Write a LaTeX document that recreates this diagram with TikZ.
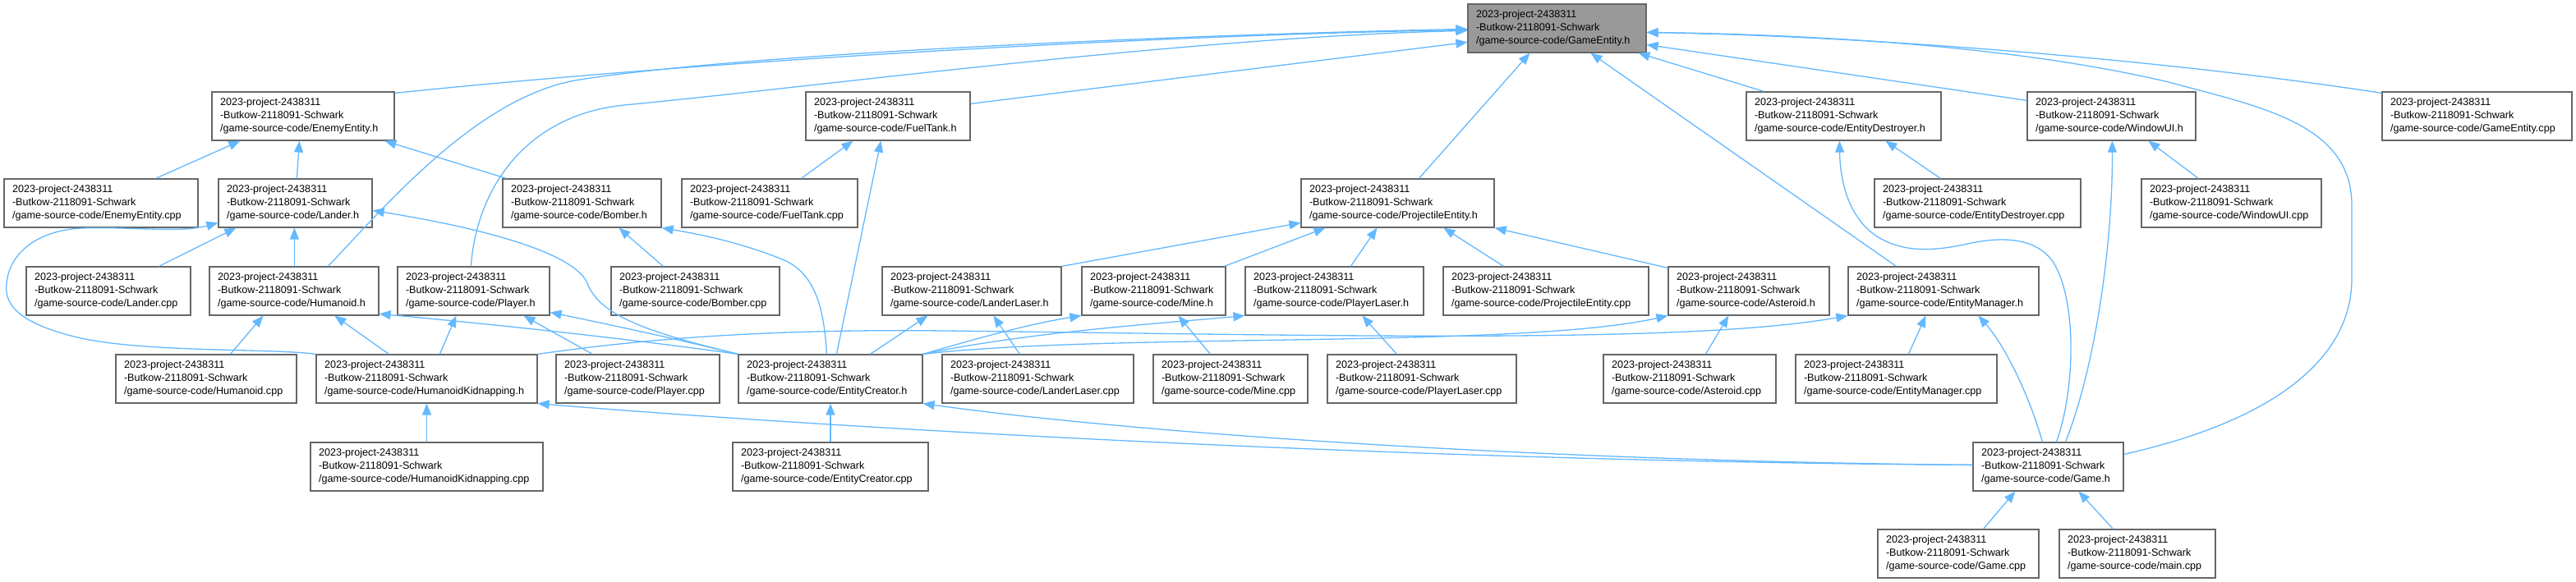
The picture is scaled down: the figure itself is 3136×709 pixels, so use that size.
\documentclass[tikz,border=0pt]{standalone}
\usepackage{fontspec}
\setmainfont{Liberation Sans}
\usetikzlibrary{arrows.meta}
\definecolor{edgeblue}{HTML}{63B8FF}
\definecolor{nodeborder}{HTML}{666666}
\definecolor{mainfill}{HTML}{999999}
\newcommand\flbl[1]{2023-project-2438311\\-Butkow-2118091-Schwark\\/game-source-code/#1}
\newcommand\nodefnt{\fontsize{12.6}{16}\selectfont\hyphenpenalty=10000\exhyphenpenalty=10000}
\begin{document}
\begin{tikzpicture}[x=1pt,y=-1pt,
  filebox/.style={draw=nodeborder, fill=white, line width=1.2pt, minimum height=59pt, inner xsep=10pt, inner ysep=0pt, align=left, font=\nodefnt, anchor=center},
  mainbox/.style={filebox, fill=mainfill},
  dep/.style={draw=edgeblue, line width=1.3pt, -{Triangle[length=14pt,width=11pt]}}]
\useasboundingbox (0,0) rectangle (3136,709);
% row 0
\node[mainbox, text width=197pt] (GE_h) at (1895.5,34.5) {\flbl{GameEntity.h}};
% row 1
\node[filebox, text width=202pt] (EE_h) at (369,141.5) {\flbl{EnemyEntity.h}};
\node[filebox, text width=180pt] (FT_h) at (1081,141.5) {\flbl{FuelTank.h}};
\node[filebox, text width=217pt] (ED_h) at (2244.5,141.5) {\flbl{EntityDestroyer.h}};
\node[filebox, text width=185pt] (WU_h) at (2570.5,141.5) {\flbl{WindowUI.h}};
\node[filebox, text width=211pt] (GE_cpp) at (3015.5,141.5) {\flbl{GameEntity.cpp}};
% row 2
\node[filebox, text width=216pt] (EE_cpp) at (123,247.5) {\flbl{EnemyEntity.cpp}};
\node[filebox, text width=167pt] (La_h) at (359.5,247.5) {\flbl{Lander.h}};
\node[filebox, text width=173pt] (Bo_h) at (708.5,247.5) {\flbl{Bomber.h}};
\node[filebox, text width=194pt] (FT_cpp) at (937,247.5) {\flbl{FuelTank.cpp}};
\node[filebox, text width=215pt] (PE_h) at (1701.5,247.5) {\flbl{ProjectileEntity.h}};
\node[filebox, text width=231pt] (ED_cpp) at (2407.5,247.5) {\flbl{EntityDestroyer.cpp}};
\node[filebox, text width=199pt] (WU_cpp) at (2716.5,247.5) {\flbl{WindowUI.cpp}};
% row 3
\node[filebox, text width=180pt] (La_cpp) at (132,354.5) {\flbl{Lander.cpp}};
\node[filebox, text width=186pt] (Hu_h) at (358,354.5) {\flbl{Humanoid.h}};
\node[filebox, text width=165pt] (Pl_h) at (576.5,354.5) {\flbl{Player.h}};
\node[filebox, text width=185pt] (Bo_cpp) at (846.5,354.5) {\flbl{Bomber.cpp}};
\node[filebox, text width=198pt] (LL_h) at (1183,354.5) {\flbl{LanderLaser.h}};
\node[filebox, text width=155pt] (Mi_h) at (1404.5,354.5) {\flbl{Mine.h}};
\node[filebox, text width=197pt] (PL_h) at (1624.5,354.5) {\flbl{PlayerLaser.h}};
\node[filebox, text width=230pt] (PE_cpp) at (1882,354.5) {\flbl{ProjectileEntity.cpp}};
\node[filebox, text width=176pt] (As_h) at (2129,354.5) {\flbl{Asteroid.h}};
\node[filebox, text width=212pt] (EM_h) at (2366,354.5) {\flbl{EntityManager.h}};
% row 4
\node[filebox, text width=200pt] (Hu_cpp) at (251,461.5) {\flbl{Humanoid.cpp}};
\node[filebox, text width=249pt] (HK_h) at (519.5,461.5) {\flbl{HumanoidKidnapping.h}};
\node[filebox, text width=179pt] (Pl_cpp) at (776.5,461.5) {\flbl{Player.cpp}};
\node[filebox, text width=204pt] (EC_h) at (1011,461.5) {\flbl{EntityCreator.h}};
\node[filebox, text width=213pt] (LL_cpp) at (1263.5,461.5) {\flbl{LanderLaser.cpp}};
\node[filebox, text width=168pt] (Mi_cpp) at (1498,461.5) {\flbl{Mine.cpp}};
\node[filebox, text width=210pt] (PL_cpp) at (1731,461.5) {\flbl{PlayerLaser.cpp}};
\node[filebox, text width=190pt] (As_cpp) at (2057,461.5) {\flbl{Asteroid.cpp}};
\node[filebox, text width=225pt] (EM_cpp) at (2308.5,461.5) {\flbl{EntityManager.cpp}};
% row 5
\node[filebox, text width=263pt] (HK_cpp) at (519.5,568.5) {\flbl{HumanoidKidnapping.cpp}};
\node[filebox, text width=218pt] (EC_cpp) at (1011,568.5) {\flbl{EntityCreator.cpp}};
\node[filebox, text width=163pt] (Ga_h) at (2493.5,568.5) {\flbl{Game.h}};
% row 6
\node[filebox, text width=176pt] (Ga_cpp) at (2384,674.5) {\flbl{Game.cpp}};
\node[filebox, text width=170pt] (main_cpp) at (2602,674.5) {\flbl{main.cpp}};

% edges to GameEntity.h
\draw[dep] ([shift={(0,2)}]EE_h.north east) .. controls (900,70) and (1450,42) .. ([shift={(0,32)}]GE_h.north west);
\draw[dep] ([shift={(145,0)}]Hu_h.north west) .. controls (470,250) and (580,120) .. (700,98) .. controls (900,65) and (1450,42) .. ([shift={(0,31)}]GE_h.north west);
\draw[dep] ([shift={(90,0)}]Pl_h.north west) .. controls (580,230) and (640,140) .. (760,128) .. controls (1000,105) and (1450,45) .. ([shift={(0,33)}]GE_h.north west);
\draw[dep] ([shift={(0,15)}]FT_h.north east) -- ([shift={(0,47)}]GE_h.north west);
\draw[dep] ([shift={(144,0)}]PE_h.north west) -- ([shift={(76,0)}]GE_h.south west);
\draw[dep] ([shift={(59,0)}]EM_h.north west) -- ([shift={(150,0)}]GE_h.south west);
\draw[dep] ([shift={(22,0)}]ED_h.north west) -- ([shift={(208,0)}]GE_h.south west);
\draw[dep] ([shift={(0,11)}]WU_h.north west) -- ([shift={(0,50)}]GE_h.north east);
\draw[dep] ([shift={(0,2)}]GE_cpp.north west) .. controls (2650,75) and (2300,45) .. ([shift={(0,35)}]GE_h.north east);
\draw[dep] ([shift={(0,15)}]Ga_h.north east) .. controls (2780,510) and (2863,430) .. (2863,340) -- (2863,250) .. controls (2863,150) and (2750,130) .. (2640,100) .. controls (2450,55) and (2200,42) .. ([shift={(0,35)}]GE_h.north east);
% EnemyEntity.h
\draw[dep] ([shift={(185,0)}]EE_cpp.north west) -- ([shift={(35,0)}]EE_h.south west);
\draw[dep] ([shift={(96,0)}]La_h.north west) -- ([shift={(107,0)}]EE_h.south west);
\draw[dep] ([shift={(5,0)}]Bo_h.north west) -- ([shift={(211,0)}]EE_h.south west);
% FuelTank.h
\draw[dep] ([shift={(146,0)}]FT_cpp.north west) -- ([shift={(58,0)}]FT_h.south west);
\draw[dep] ([shift={(120,0)}]EC_h.north west) -- ([shift={(92,0)}]FT_h.south west);
% Bomber.h
\draw[dep] ([shift={(108,0)}]EC_h.north west) .. controls (1003,370) and (990,330) .. (950,315) .. controls (900,295) and (850,285) .. (Bo_h.south east);
\draw[dep] ([shift={(64,0)}]Bo_cpp.north west) -- ([shift={(142,0)}]Bo_h.south west);
% Lander.h
\draw[dep] ([shift={(162,0)}]La_cpp.north west) -- ([shift={(22,0)}]La_h.south west);
\draw[dep] ([shift={(104,0)}]Hu_h.north west) -- ([shift={(93,0)}]La_h.south west);
\draw[dep] (HK_h.north west) .. controls (330,424) and (170,430) .. (90,410) .. controls (20,392) and (5,370) .. (8,345) .. controls (12,305) and (50,280) .. (100,278) .. controls (160,276) and (220,284) .. ([shift={(0,54)}]La_h.north west);
\draw[dep] (EC_h.north west) .. controls (790,405) and (730,385) .. (715,345) .. controls (700,310) and (600,280) .. ([shift={(0,39)}]La_h.north east);
% Humanoid.h, Player.h
\draw[dep] (EC_h.north west) .. controls (760,412) and (600,395) .. ([shift={(0,58)}]Hu_h.north east);
\draw[dep] (EC_h.north west) .. controls (820,412) and (740,395) .. ([shift={(0,56)}]Pl_h.north east);
\draw[dep] ([shift={(140,0)}]Hu_cpp.north west) -- ([shift={(66,0)}]Hu_h.south west);
\draw[dep] ([shift={(89,0)}]HK_h.north west) -- ([shift={(153,0)}]Hu_h.south west);
\draw[dep] ([shift={(151,0)}]HK_h.north west) -- ([shift={(72,0)}]Pl_h.south west);
\draw[dep] ([shift={(45,0)}]Pl_cpp.north west) -- ([shift={(154,0)}]Pl_h.south west);
% HumanoidKidnapping.h, EntityCreator.h
\draw[dep] (HK_cpp.north) -- (HK_h.south);
\draw[dep] ([shift={(0,28)}]Ga_h.north west) .. controls (1700,562) and (1000,520) .. (HK_h.south east);
\draw[dep] (EC_cpp.north) -- (EC_h.south);
\draw[dep] ([shift={(0,28)}]Ga_h.north west) .. controls (1900,562) and (1400,530) .. (EC_h.south east);
% ProjectileEntity.h
\draw[dep] (LL_h.north east) -- ([shift={(0,54)}]PE_h.north west);
\draw[dep] ([shift={(174,0)}]Mi_h.north west) -- ([shift={(30,0)}]PE_h.south west);
\draw[dep] ([shift={(129,0)}]PL_h.north west) -- ([shift={(93,0)}]PE_h.south west);
\draw[dep] ([shift={(74,0)}]PE_cpp.north west) -- ([shift={(174,0)}]PE_h.south west);
\draw[dep] ([shift={(0,2)}]As_h.north west) -- (PE_h.south east);
% LanderLaser.h, Mine.h, PlayerLaser.h, Asteroid.h, EntityManager.h
\draw[dep] ([shift={(161,0)}]EC_h.north west) -- ([shift={(56,0)}]LL_h.south west);
\draw[dep] ([shift={(95,0)}]LL_cpp.north west) -- ([shift={(136,0)}]LL_h.south west);
\draw[dep] (EC_h.north east) .. controls (1180,415) and (1250,395) .. (Mi_h.south west);
\draw[dep] ([shift={(70,0)}]Mi_cpp.north west) -- ([shift={(118,0)}]Mi_h.south west);
\draw[dep] (EC_h.north east) .. controls (1250,405) and (1400,395) .. (PL_h.south west);
\draw[dep] ([shift={(85,0)}]PL_cpp.north west) -- ([shift={(143,0)}]PL_h.south west);
\draw[dep] (EC_h.north east) .. controls (1350,405) and (1850,425) .. (As_h.south west);
\draw[dep] ([shift={(125,0)}]As_cpp.north west) -- ([shift={(74,0)}]As_h.south west);
\draw[dep] ([shift={(138,0)}]EM_cpp.north west) -- ([shift={(95,0)}]EM_h.south west);
\draw[dep] ([shift={(85,0)}]Ga_h.north west) .. controls (2470,480) and (2440,420) .. ([shift={(159,0)}]EM_h.south west);
\draw[dep] (HK_h.north east) .. controls (750,418) and (900,400) .. (1150,403) .. controls (1600,408) and (2050,420) .. (EM_h.south west);
% EntityDestroyer.h, WindowUI.h, Game.h
\draw[dep] ([shift={(81,0)}]ED_cpp.north west) -- ([shift={(170,0)}]ED_h.south west);
\draw[dep] ([shift={(102,0)}]Ga_h.north west) .. controls (2525,480) and (2530,370) .. (2500,320) .. controls (2480,290) and (2440,288) .. (2400,296) .. controls (2360,305) and (2320,310) .. (2285,288) .. controls (2250,265) and (2240,220) .. ([shift={(114,0)}]ED_h.south west);
\draw[dep] ([shift={(113,0)}]Ga_h.north west) .. controls (2550,450) and (2572,300) .. ([shift={(104,0)}]WU_h.south west);
\draw[dep] ([shift={(70,0)}]WU_cpp.north west) -- ([shift={(148,0)}]WU_h.south west);
\draw[dep] ([shift={(129,0)}]Ga_cpp.north west) -- ([shift={(52,0)}]Ga_h.south west);
\draw[dep] ([shift={(66,0)}]main_cpp.north west) -- ([shift={(129,0)}]Ga_h.south west);
\end{tikzpicture}
\end{document}
